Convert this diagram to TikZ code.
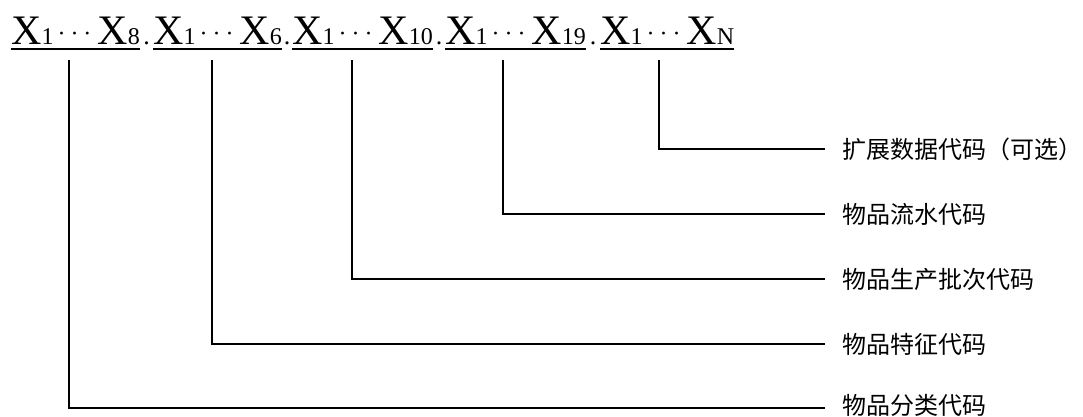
\documentclass[tikz,border=0pt]{standalone}
\usepackage{fontspec}
\setmainfont{Liberation Serif}
\newfontfamily\cjk{Noto Sans CJK SC}
\usetikzlibrary{calc}
\newcommand\xsub[1]{{\fontsize{24}{24}\selectfont #1}}
\newcommand\xdots{{\fontsize{24}{24}\selectfont\kern4pt\raisebox{3pt}{·\kern5pt·\kern5pt·}\kern6pt}}
\newcommand\xgrp[1]{X\xsub{1}\xdots X\xsub{#1}}
\begin{document}
\begin{tikzpicture}[x=1pt,y=1pt,
  grp/.style={inner sep=0pt, anchor=base west, font=\fontsize{42}{42}\selectfont},
  dotn/.style={inner sep=0pt, anchor=base, font=\fontsize{26}{26}\selectfont},
  uline/.style={line width=1.8pt},
  conn/.style={line width=1.4pt},
  lab/.style={inner sep=0pt, anchor=base west, text height=0.8em, text depth=0pt,
              font=\cjk\fontsize{24}{24}\selectfont}]
\useasboundingbox (0,0) rectangle (1083,-416);
% code groups
\node[grp] (g1) at (11,-44) {\xgrp{8}};
\node[grp] (g2) at (153,-44) {\xgrp{6}};
\node[grp] (g3) at (292,-44) {\xgrp{10}};
\node[grp] (g4) at (445,-44) {\xgrp{19}};
\node[grp] (g5) at (600,-44) {\xgrp{N}};
\node[dotn] (d1) at ($(g1.base east)!0.5!(g2.base west)$) {.};
\node[dotn] (d2) at ($(g2.base east)!0.5!(g3.base west)$) {.};
\node[dotn] (d3) at ($(g3.base east)!0.5!(g4.base west)$) {.};
\node[dotn] (d4) at ($(g4.base east)!0.5!(g5.base west)$) {.};
\foreach \g in {g1,g2,g3,g4,g5}
  \draw[uline] ([yshift=-5pt]\g.base west) -- ([yshift=-5pt]\g.base east);
% labels (text centred on its connector line)
\node[lab] (l5) at (842,-158) {扩展数据代码（可选）};
\node[lab] (l4) at (842,-223) {物品流水代码};
\node[lab] (l3) at (842,-288) {物品生产批次代码};
\node[lab] (l2) at (842,-353) {物品特征代码};
\node[lab] (l1) at (842,-414) {物品分类代码};
% connector tops
\coordinate (t1) at (69,-60);
\coordinate (t2) at (212,-60);
\coordinate (t3) at (352,-60);
\coordinate (t4) at (503,-60);
\coordinate (t5) at (659,-60);
\foreach \i in {2,...,5}
  \draw[conn] (t\i) |- ([shift={(-17pt,9pt)}]l\i.base west);
\draw[conn] (t1) |- ([shift={(-17pt,6pt)}]l1.base west);
\end{tikzpicture}
\end{document}
